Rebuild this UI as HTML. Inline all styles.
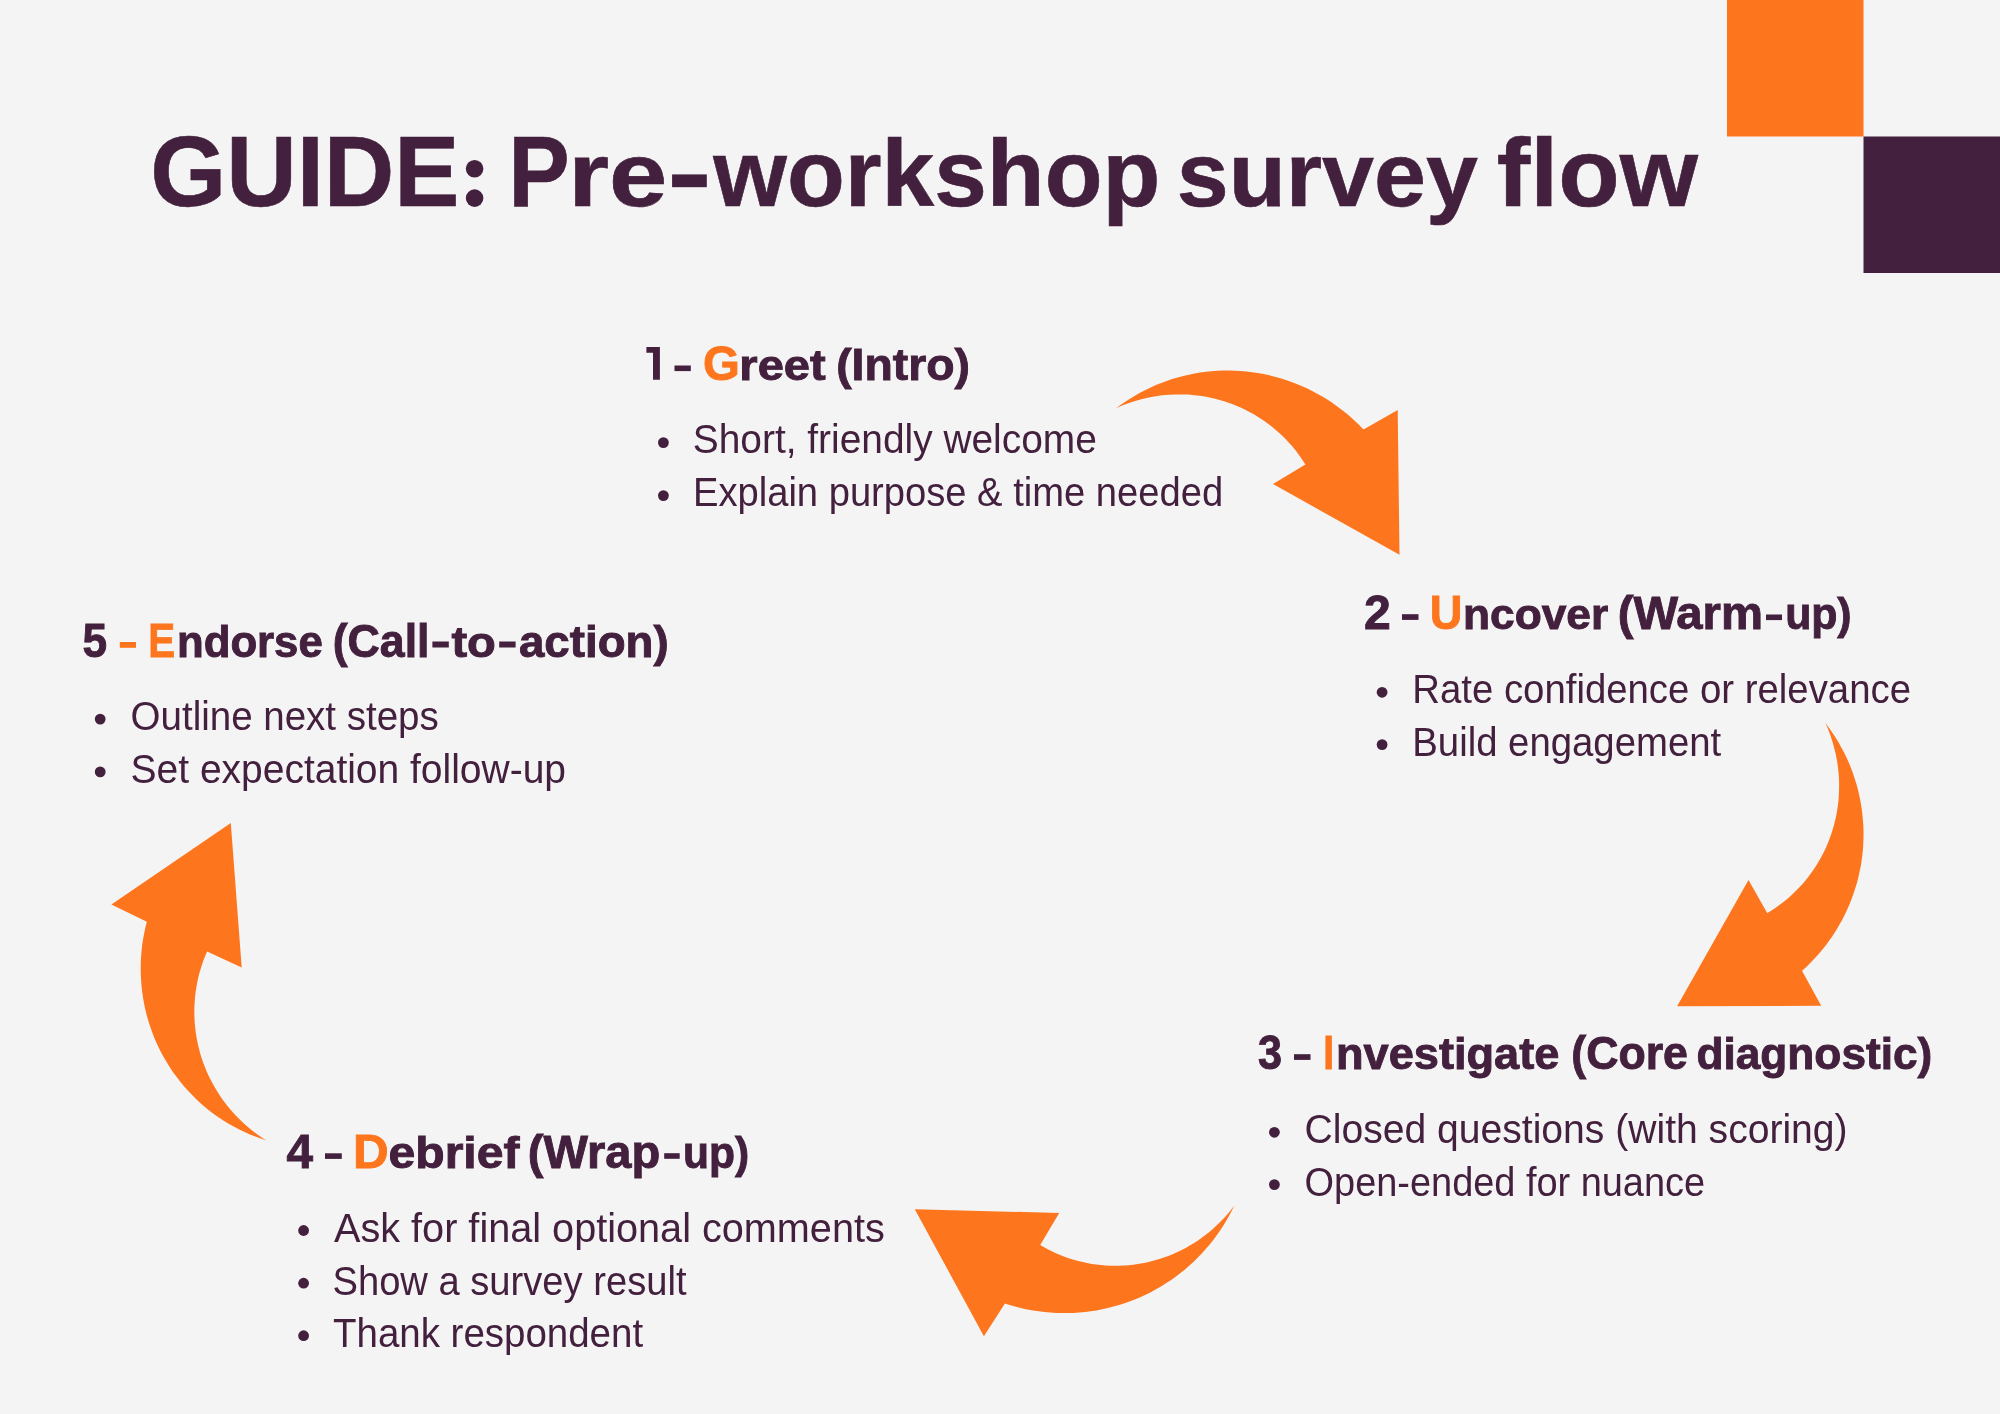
<!DOCTYPE html><html><head><meta charset="utf-8"><style>html,body{margin:0;padding:0;background:#f4f4f4;width:2000px;height:1414px;overflow:hidden}svg{display:block;will-change:transform}text{font-family:"Liberation Sans",sans-serif}</style></head><body>
<svg width="2000" height="1414" viewBox="0 0 2000 1414">
<rect x="1727" y="0" width="136.5" height="136.5" fill="#fd761e"/>
<rect x="1863.5" y="136.5" width="136.5" height="136.5" fill="#43203d"/>
<path d="M1116.2 408.2 L1120.8 404.8 L1125.6 401.5 L1130.4 398.4 L1135.3 395.4 L1140.4 392.6 L1145.5 389.9 L1150.7 387.4 L1155.9 385.1 L1161.3 382.9 L1166.7 380.9 L1172.2 379.1 L1177.7 377.5 L1183.3 376.0 L1188.9 374.7 L1194.6 373.6 L1200.3 372.6 L1206.0 371.8 L1211.7 371.3 L1217.5 370.8 L1223.3 370.6 L1229.1 370.6 L1234.8 370.7 L1240.6 371.0 L1246.4 371.5 L1252.1 372.2 L1257.8 373.1 L1263.5 374.1 L1269.2 375.3 L1274.8 376.7 L1280.4 378.2 L1285.9 380.0 L1291.4 381.9 L1296.8 384.0 L1302.1 386.2 L1307.4 388.6 L1312.6 391.2 L1317.7 393.9 L1322.8 396.8 L1327.7 399.8 L1332.6 403.0 L1337.3 406.4 L1342.0 409.9 L1346.5 413.5 L1350.9 417.3 L1355.2 421.2 L1359.4 425.2 L1363.5 429.4 L1397.7 410.0 L1399.5 554.7 L1273.0 484.1 L1305.4 464.6 L1302.9 460.7 L1300.4 457.0 L1297.7 453.3 L1294.9 449.6 L1292.0 446.1 L1288.9 442.7 L1285.8 439.3 L1282.6 436.1 L1279.2 433.0 L1275.8 429.9 L1272.3 427.0 L1268.7 424.2 L1265.0 421.5 L1261.2 418.9 L1257.3 416.5 L1253.4 414.1 L1249.4 411.9 L1245.3 409.8 L1241.1 407.8 L1236.9 406.0 L1232.7 404.3 L1228.4 402.7 L1224.0 401.3 L1219.6 399.9 L1215.2 398.8 L1210.7 397.7 L1206.2 396.8 L1201.7 396.1 L1197.1 395.5 L1192.6 395.0 L1188.0 394.6 L1183.4 394.4 L1178.8 394.4 L1174.2 394.5 L1169.6 394.7 L1165.0 395.1 L1160.4 395.6 L1155.9 396.2 L1151.3 397.0 L1146.8 397.9 L1142.3 399.0 L1137.9 400.2 L1133.4 401.5 L1129.1 403.0 L1124.7 404.6 L1120.4 406.3 Z" fill="#fd761e"/><path d="M1825.4 723.0 L1828.9 727.7 L1832.2 732.4 L1835.4 737.3 L1838.5 742.3 L1841.3 747.4 L1844.1 752.5 L1846.6 757.8 L1849.0 763.1 L1851.2 768.5 L1853.2 774.0 L1855.0 779.5 L1856.7 785.1 L1858.2 790.7 L1859.5 796.4 L1860.6 802.1 L1861.6 807.9 L1862.3 813.6 L1862.9 819.4 L1863.3 825.2 L1863.5 831.1 L1863.5 836.9 L1863.3 842.7 L1863.0 848.5 L1862.4 854.4 L1861.7 860.1 L1860.8 865.9 L1859.6 871.6 L1858.4 877.3 L1856.9 882.9 L1855.2 888.5 L1853.4 894.1 L1851.4 899.6 L1849.2 905.0 L1846.9 910.3 L1844.4 915.6 L1841.7 920.7 L1838.8 925.8 L1835.8 930.8 L1832.7 935.7 L1829.3 940.5 L1825.9 945.2 L1822.2 949.8 L1818.5 954.2 L1814.5 958.6 L1810.5 962.8 L1806.3 966.9 L1802.0 970.8 L1821.2 1005.8 L1677.1 1006.2 L1748.5 880.0 L1767.2 913.1 L1771.1 910.7 L1775.0 908.2 L1778.7 905.6 L1782.4 902.8 L1786.0 899.9 L1789.5 896.9 L1792.9 893.8 L1796.2 890.6 L1799.4 887.3 L1802.5 883.9 L1805.5 880.4 L1808.4 876.8 L1811.1 873.1 L1813.8 869.3 L1816.3 865.4 L1818.7 861.5 L1821.0 857.5 L1823.1 853.4 L1825.2 849.2 L1827.1 845.0 L1828.8 840.7 L1830.4 836.4 L1831.9 832.0 L1833.3 827.5 L1834.5 823.1 L1835.6 818.6 L1836.5 814.0 L1837.3 809.4 L1838.0 804.8 L1838.5 800.2 L1838.8 795.6 L1839.0 791.0 L1839.1 786.3 L1839.1 781.7 L1838.9 777.0 L1838.5 772.4 L1838.0 767.7 L1837.4 763.1 L1836.6 758.5 L1835.7 754.0 L1834.6 749.4 L1833.4 744.9 L1832.1 740.4 L1830.6 736.0 L1829.0 731.6 L1827.3 727.3 Z" fill="#fd761e"/><path d="M1234.3 1205.6 L1231.7 1210.8 L1229.0 1215.9 L1226.1 1221.0 L1223.1 1225.9 L1219.9 1230.8 L1216.6 1235.5 L1213.1 1240.2 L1209.5 1244.7 L1205.7 1249.1 L1201.8 1253.4 L1197.8 1257.6 L1193.7 1261.7 L1189.4 1265.6 L1185.0 1269.4 L1180.5 1273.0 L1175.9 1276.5 L1171.2 1279.9 L1166.3 1283.1 L1161.4 1286.2 L1156.4 1289.1 L1151.3 1291.9 L1146.1 1294.5 L1140.8 1296.9 L1135.5 1299.2 L1130.1 1301.3 L1124.6 1303.2 L1119.1 1305.0 L1113.5 1306.6 L1107.9 1308.0 L1102.2 1309.3 L1096.5 1310.4 L1090.8 1311.3 L1085.1 1312.0 L1079.3 1312.5 L1073.5 1312.9 L1067.7 1313.1 L1061.9 1313.1 L1056.1 1312.9 L1050.3 1312.6 L1044.5 1312.0 L1038.8 1311.3 L1033.0 1310.5 L1027.3 1309.4 L1021.6 1308.2 L1016.0 1306.7 L1010.4 1305.2 L1004.9 1303.4 L983.9 1336.3 L914.8 1209.2 L1059.2 1213.0 L1040.2 1245.0 L1044.2 1247.3 L1048.2 1249.5 L1052.3 1251.5 L1056.5 1253.5 L1060.8 1255.2 L1065.1 1256.9 L1069.4 1258.4 L1073.8 1259.8 L1078.3 1261.0 L1082.7 1262.1 L1087.2 1263.1 L1091.8 1263.9 L1096.4 1264.6 L1100.9 1265.1 L1105.5 1265.5 L1110.1 1265.7 L1114.8 1265.8 L1119.4 1265.7 L1124.0 1265.5 L1128.6 1265.2 L1133.2 1264.7 L1137.8 1264.1 L1142.3 1263.3 L1146.8 1262.4 L1151.3 1261.3 L1155.8 1260.1 L1160.2 1258.8 L1164.6 1257.3 L1168.9 1255.7 L1173.2 1253.9 L1177.4 1252.0 L1181.6 1250.0 L1185.7 1247.9 L1189.7 1245.6 L1193.7 1243.2 L1197.6 1240.7 L1201.4 1238.0 L1205.1 1235.3 L1208.7 1232.4 L1212.3 1229.4 L1215.7 1226.3 L1219.1 1223.1 L1222.3 1219.8 L1225.5 1216.4 L1228.5 1212.9 L1231.5 1209.3 Z" fill="#fd761e"/><path d="M266.3 1140.4 L260.8 1138.6 L255.3 1136.6 L249.9 1134.4 L244.6 1132.1 L239.3 1129.5 L234.2 1126.8 L229.1 1124.0 L224.1 1120.9 L219.2 1117.7 L214.4 1114.4 L209.8 1110.9 L205.2 1107.2 L200.8 1103.4 L196.5 1099.4 L192.4 1095.3 L188.3 1091.1 L184.4 1086.7 L180.7 1082.2 L177.1 1077.6 L173.6 1072.9 L170.3 1068.0 L167.2 1063.1 L164.2 1058.0 L161.4 1052.9 L158.8 1047.7 L156.3 1042.4 L154.0 1037.0 L151.9 1031.5 L150.0 1026.0 L148.2 1020.4 L146.6 1014.7 L145.2 1009.0 L144.0 1003.3 L143.0 997.5 L142.2 991.7 L141.5 985.9 L141.1 980.0 L140.8 974.1 L140.7 968.3 L140.8 962.4 L141.1 956.5 L141.6 950.6 L142.2 944.8 L143.1 939.0 L144.2 933.2 L145.4 927.4 L146.8 921.7 L111.4 904.5 L230.8 823.1 L241.7 967.5 L207.1 951.5 L205.3 955.7 L203.6 960.0 L202.1 964.3 L200.7 968.7 L199.4 973.1 L198.3 977.5 L197.3 982.0 L196.5 986.5 L195.8 991.0 L195.2 995.5 L194.8 1000.1 L194.5 1004.7 L194.3 1009.3 L194.3 1013.8 L194.5 1018.4 L194.7 1023.0 L195.2 1027.6 L195.7 1032.1 L196.4 1036.6 L197.2 1041.1 L198.2 1045.6 L199.3 1050.1 L200.5 1054.5 L201.9 1058.9 L203.4 1063.2 L205.1 1067.5 L206.8 1071.7 L208.7 1075.9 L210.8 1080.0 L212.9 1084.1 L215.2 1088.1 L217.6 1092.0 L220.1 1095.9 L222.7 1099.7 L225.4 1103.3 L228.3 1107.0 L231.3 1110.5 L234.3 1113.9 L237.5 1117.3 L240.8 1120.5 L244.2 1123.7 L247.6 1126.7 L251.2 1129.7 L254.8 1132.5 L258.6 1135.3 L262.4 1137.9 Z" fill="#fd761e"/>
<rect x="674.5" y="365.5" width="16.3" height="5.6" fill="#43203d"/>
<rect x="1402.0" y="614.2" width="16.5" height="5.7" fill="#43203d"/>
<rect x="1294.0" y="1054.2" width="16.5" height="5.7" fill="#43203d"/>
<rect x="325.0" y="1153.3" width="16.8" height="5.6" fill="#43203d"/>
<rect x="119.8" y="642.0" width="16.2" height="5.8" fill="#fd761e"/>
<rect x="672.1" y="174.4" width="34.7" height="12.8" fill="#43203d"/>
<rect x="1766.0" y="614.5" width="16.0" height="5.6" fill="#43203d"/>
<rect x="664.2" y="1153.2" width="15.5" height="5.6" fill="#43203d"/>
<rect x="432.4" y="641.5" width="16.4" height="6.0" fill="#43203d"/>
<rect x="499.2" y="641.5" width="16.4" height="6.0" fill="#43203d"/>
<path d="M646.4 347.1H659.9V379.7H653V352.7H646.4Z" fill="#43203d"/><circle cx="474.6" cy="168.8" r="8.8" fill="#43203d"/><circle cx="474.6" cy="198.1" r="8.8" fill="#43203d"/>
<circle cx="663.4" cy="442.6" r="5.4" fill="#43203d"/>
<circle cx="663.4" cy="495.6" r="5.4" fill="#43203d"/>
<circle cx="1382.1" cy="692.3" r="5.4" fill="#43203d"/>
<circle cx="1382.1" cy="744.6" r="5.4" fill="#43203d"/>
<circle cx="1274.4" cy="1132.3" r="5.4" fill="#43203d"/>
<circle cx="1274.4" cy="1184.6" r="5.4" fill="#43203d"/>
<circle cx="303.6" cy="1230.5" r="5.4" fill="#43203d"/>
<circle cx="303.6" cy="1283.2" r="5.4" fill="#43203d"/>
<circle cx="303.6" cy="1335.7" r="5.4" fill="#43203d"/>
<circle cx="100.2" cy="719.1" r="5.4" fill="#43203d"/>
<circle cx="100.2" cy="771.9" r="5.4" fill="#43203d"/>
<text x="150.28" y="206.00" font-size="100.50" font-weight="700" fill="#43203d" stroke="#43203d" stroke-width="0.60" textLength="309.20" lengthAdjust="spacingAndGlyphs" xml:space="preserve">GUIDE</text>
<text x="508.15" y="206.00" font-size="100.50" font-weight="700" fill="#43203d" stroke="#43203d" stroke-width="0.60" textLength="61.50" lengthAdjust="spacingAndGlyphs" xml:space="preserve">P</text>
<text x="568.33" y="206.00" font-size="91.00" font-weight="700" fill="#43203d" stroke="#43203d" stroke-width="0.60" textLength="99.02" lengthAdjust="spacingAndGlyphs" xml:space="preserve">re</text>
<text x="713.31" y="206.00" font-size="94.00" font-weight="700" fill="#43203d" stroke="#43203d" stroke-width="0.60" textLength="447.02" lengthAdjust="spacingAndGlyphs" xml:space="preserve">workshop</text>
<text x="1176.77" y="206.00" font-size="91.00" font-weight="700" fill="#43203d" stroke="#43203d" stroke-width="0.60" textLength="301.13" lengthAdjust="spacingAndGlyphs" xml:space="preserve">survey</text>
<text x="1496.79" y="206.00" font-size="96.00" font-weight="700" fill="#43203d" stroke="#43203d" stroke-width="0.60" textLength="201.20" lengthAdjust="spacingAndGlyphs" xml:space="preserve">flow</text>
<text x="702.90" y="380.00" font-size="48.00" font-weight="700" fill="#fd761e" stroke="#fd761e" stroke-width="0.90" textLength="36.87" lengthAdjust="spacingAndGlyphs" xml:space="preserve">G</text>
<text x="739.34" y="380.00" font-size="43.00" font-weight="700" fill="#43203d" stroke="#43203d" stroke-width="0.90" textLength="86.37" lengthAdjust="spacingAndGlyphs" xml:space="preserve">reet</text>
<text x="836.16" y="380.00" font-size="45.00" font-weight="700" fill="#43203d" stroke="#43203d" stroke-width="0.90" textLength="133.88" lengthAdjust="spacingAndGlyphs" xml:space="preserve">(Intro)</text>
<text x="692.79" y="453.00" font-size="40.00" font-weight="400" fill="#43203d" textLength="404.03" lengthAdjust="spacingAndGlyphs" xml:space="preserve">Short, friendly welcome</text>
<text x="692.97" y="505.80" font-size="40.00" font-weight="400" fill="#43203d" textLength="530.15" lengthAdjust="spacingAndGlyphs" xml:space="preserve">Explain purpose &amp; time needed</text>
<text x="1363.91" y="629.00" font-size="48.00" font-weight="700" fill="#43203d" stroke="#43203d" stroke-width="0.90" textLength="26.76" lengthAdjust="spacingAndGlyphs" xml:space="preserve">2</text>
<text x="1429.67" y="629.00" font-size="48.00" font-weight="700" fill="#fd761e" stroke="#fd761e" stroke-width="0.90" textLength="32.67" lengthAdjust="spacingAndGlyphs" xml:space="preserve">U</text>
<text x="1462.96" y="629.00" font-size="43.00" font-weight="700" fill="#43203d" stroke="#43203d" stroke-width="0.90" textLength="145.29" lengthAdjust="spacingAndGlyphs" xml:space="preserve">ncover</text>
<text x="1617.70" y="629.00" font-size="46.00" font-weight="700" fill="#43203d" stroke="#43203d" stroke-width="0.90" textLength="145.35" lengthAdjust="spacingAndGlyphs" xml:space="preserve">(Warm</text>
<text x="1785.13" y="629.00" font-size="45.00" font-weight="700" fill="#43203d" stroke="#43203d" stroke-width="0.90" textLength="66.45" lengthAdjust="spacingAndGlyphs" xml:space="preserve">up)</text>
<text x="1412.28" y="702.80" font-size="40.00" font-weight="400" fill="#43203d" textLength="498.74" lengthAdjust="spacingAndGlyphs" xml:space="preserve">Rate confidence or relevance</text>
<text x="1412.28" y="755.80" font-size="40.00" font-weight="400" fill="#43203d" textLength="308.92" lengthAdjust="spacingAndGlyphs" xml:space="preserve">Build engagement</text>
<text x="1258.00" y="1068.80" font-size="48.00" font-weight="700" fill="#43203d" stroke="#43203d" stroke-width="0.90" textLength="24.05" lengthAdjust="spacingAndGlyphs" xml:space="preserve">3</text>
<text x="1323.25" y="1068.80" font-size="48.00" font-weight="700" fill="#fd761e" stroke="#fd761e" stroke-width="0.90" textLength="10.83" lengthAdjust="spacingAndGlyphs" xml:space="preserve">I</text>
<text x="1335.98" y="1068.80" font-size="44.00" font-weight="700" fill="#43203d" stroke="#43203d" stroke-width="0.90" textLength="223.33" lengthAdjust="spacingAndGlyphs" xml:space="preserve">nvestigate</text>
<text x="1571.27" y="1068.80" font-size="46.00" font-weight="700" fill="#43203d" stroke="#43203d" stroke-width="0.90" textLength="116.66" lengthAdjust="spacingAndGlyphs" xml:space="preserve">(Core</text>
<text x="1696.48" y="1068.80" font-size="45.00" font-weight="700" fill="#43203d" stroke="#43203d" stroke-width="0.90" textLength="235.84" lengthAdjust="spacingAndGlyphs" xml:space="preserve">diagnostic)</text>
<text x="1304.59" y="1142.80" font-size="40.00" font-weight="400" fill="#43203d" textLength="543.02" lengthAdjust="spacingAndGlyphs" xml:space="preserve">Closed questions (with scoring)</text>
<text x="1304.59" y="1195.50" font-size="40.00" font-weight="400" fill="#43203d" textLength="400.52" lengthAdjust="spacingAndGlyphs" xml:space="preserve">Open-ended for nuance</text>
<text x="286.47" y="1168.00" font-size="48.00" font-weight="700" fill="#43203d" stroke="#43203d" stroke-width="0.90" textLength="26.53" lengthAdjust="spacingAndGlyphs" xml:space="preserve">4</text>
<text x="352.99" y="1168.00" font-size="48.00" font-weight="700" fill="#fd761e" stroke="#fd761e" stroke-width="0.90" textLength="35.73" lengthAdjust="spacingAndGlyphs" xml:space="preserve">D</text>
<text x="388.49" y="1168.00" font-size="45.00" font-weight="700" fill="#43203d" stroke="#43203d" stroke-width="0.90" textLength="131.02" lengthAdjust="spacingAndGlyphs" xml:space="preserve">ebrief</text>
<text x="527.71" y="1168.00" font-size="46.00" font-weight="700" fill="#43203d" stroke="#43203d" stroke-width="0.90" textLength="132.56" lengthAdjust="spacingAndGlyphs" xml:space="preserve">(Wrap</text>
<text x="682.90" y="1168.00" font-size="45.00" font-weight="700" fill="#43203d" stroke="#43203d" stroke-width="0.90" textLength="66.17" lengthAdjust="spacingAndGlyphs" xml:space="preserve">up)</text>
<text x="334.00" y="1242.10" font-size="40.00" font-weight="400" fill="#43203d" textLength="550.80" lengthAdjust="spacingAndGlyphs" xml:space="preserve">Ask for final optional comments</text>
<text x="332.49" y="1294.50" font-size="40.00" font-weight="400" fill="#43203d" textLength="354.01" lengthAdjust="spacingAndGlyphs" xml:space="preserve">Show a survey result</text>
<text x="333.00" y="1346.80" font-size="40.00" font-weight="400" fill="#43203d" textLength="310.11" lengthAdjust="spacingAndGlyphs" xml:space="preserve">Thank respondent</text>
<text x="82.47" y="656.80" font-size="48.00" font-weight="700" fill="#43203d" stroke="#43203d" stroke-width="0.90" textLength="24.60" lengthAdjust="spacingAndGlyphs" xml:space="preserve">5</text>
<text x="148.25" y="656.80" font-size="48.00" font-weight="700" fill="#fd761e" stroke="#fd761e" stroke-width="0.90" textLength="26.89" lengthAdjust="spacingAndGlyphs" xml:space="preserve">E</text>
<text x="176.96" y="656.80" font-size="44.00" font-weight="700" fill="#43203d" stroke="#43203d" stroke-width="0.90" textLength="145.81" lengthAdjust="spacingAndGlyphs" xml:space="preserve">ndorse</text>
<text x="332.67" y="656.80" font-size="46.00" font-weight="700" fill="#43203d" stroke="#43203d" stroke-width="0.90" textLength="96.83" lengthAdjust="spacingAndGlyphs" xml:space="preserve">(Call</text>
<text x="451.40" y="656.80" font-size="43.00" font-weight="700" fill="#43203d" stroke="#43203d" stroke-width="0.90" textLength="44.44" lengthAdjust="spacingAndGlyphs" xml:space="preserve">to</text>
<text x="518.98" y="656.80" font-size="45.00" font-weight="700" fill="#43203d" stroke="#43203d" stroke-width="0.90" textLength="149.66" lengthAdjust="spacingAndGlyphs" xml:space="preserve">action)</text>
<text x="130.59" y="729.60" font-size="40.00" font-weight="400" fill="#43203d" textLength="308.22" lengthAdjust="spacingAndGlyphs" xml:space="preserve">Outline next steps</text>
<text x="130.59" y="782.70" font-size="40.00" font-weight="400" fill="#43203d" textLength="435.41" lengthAdjust="spacingAndGlyphs" xml:space="preserve">Set expectation follow-up</text>
</svg></body></html>
